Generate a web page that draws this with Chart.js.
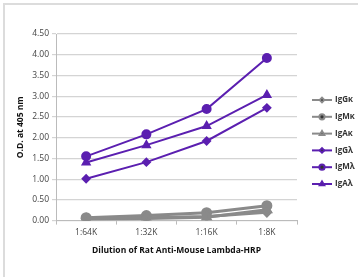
<!DOCTYPE html>
<html>
<head>
<meta charset="utf-8">
<script src="https://cdn.jsdelivr.net/npm/chart.js@4"></script>
<style>
	html, body { margin: 0; padding: 0; background: #fff; }
	#frame { position: absolute; left: 3px; top: 3px; width: 360px; height: 280px; border-left: 2px solid #dcdcdc; border-top: 2px solid #dcdcdc; }
	#wrap { position: absolute; left: 0; top: 0; width: 358px; height: 277px; }
</style>
</head>
<body>
<div id="frame"></div>
<div id="wrap"><canvas id="chart"></canvas></div>
<script>
	// dilution categories
	let dilutions = ['1:64K', '1:32K', '1:16K', '1:8K'];
	let yTicks = [0, 0.5, 1, 1.5, 2, 2.5, 3, 3.5, 4, 4.5];

	// O.D. readings
	let igGk = [0.05, 0.07, 0.10, 0.20];
	let igMk = [0.07, 0.12, 0.19, 0.36];
	let igAk = [0.03, 0.05, 0.08, 0.26];
	let igGl = [1.01, 1.41, 1.92, 2.72];
	let igMl = [1.55, 2.08, 2.69, 3.92];
	let igAl = [1.40, 1.82, 2.28, 3.03];

	let GRAY = '#8a8a8a';
	let PURPLE = '#5b1fb0';
	let FONT = '"Open Sans", sans-serif';

	function series(label, data, color, style, radius, width) {
		return {
			label: label,
			data: data,
			borderColor: color,
			backgroundColor: color,
			borderWidth: width,
			pointStyle: style,
			pointRadius: radius,
			pointHoverRadius: radius,
			tension: 0
		};
	}

	// legend with line + marker, drawn by hand
	const sideLegend = {
		id: 'sideLegend',
		afterDraw(chart) {
			const ctx = chart.ctx;
			let x0 = 312, y0 = 100, step = 16.8;
			ctx.save();
			chart.data.datasets.forEach((ds, i) => {
				let y = y0 + i * step;
				ctx.strokeStyle = ds.borderColor;
				ctx.lineWidth = 2;
				ctx.beginPath();
				ctx.moveTo(x0, y);
				ctx.lineTo(x0 + 20, y);
				ctx.stroke();
				Chart.helpers.drawPoint(ctx, {
					pointStyle: ds.pointStyle,
					radius: ds.pointRadius * 0.65,
					rotation: 0,
					borderWidth: 1
				}, x0 + 10, y);
				ctx.fillStyle = '#333';
				ctx.font = 'bold 8px ' + FONT;
				ctx.textBaseline = 'middle';
				ctx.textAlign = 'left';
				ctx.fillText(ds.label, x0 + 23, y);
			});
			ctx.restore();
		}
	};

	const ctx = document.getElementById('chart').getContext('2d');
	const myChart = new Chart(ctx, {
		type: 'line',
		data: {
			labels: dilutions,
			datasets: [
				series('IgG\u03BA', igGk, GRAY, 'rectRot', 3.5, 3),
				series('IgM\u03BA', igMk, GRAY, 'circle', 4, 3),
				series('IgA\u03BA', igAk, GRAY, 'triangle', 4, 3),
				series('IgG\u03BB', igGl, PURPLE, 'rectRot', 3.5, 2),
				series('IgM\u03BB', igMl, PURPLE, 'circle', 4, 2),
				series('IgA\u03BB', igAl, PURPLE, 'triangle', 4, 2)
			]
		},
		options: {
			responsive: true,
			maintainAspectRatio: false,
			animation: false,
			layout: { padding: { left: 11, right: 61, top: 34, bottom: 17 } },
			plugins: {
				legend: { display: false },
				tooltip: { enabled: false }
			},
			scales: {
				x: {
					offset: true,
					grid: { offset: true, drawOnChartArea: false, tickLength: 4, color: '#bbb' },
					border: { color: '#bbb' },
					ticks: { color: '#444', font: { family: FONT, size: 8.5 }, padding: 3 },
					title: { display: true, text: 'Dilution of Rat Anti-Mouse Lambda-HRP', color: '#111', font: { family: FONT, size: 8.5, weight: 'bold' }, padding: { top: 5 } }
				},
				y: {
					min: 0,
					max: 4.5,
					afterBuildTicks: (scale) => { scale.ticks = yTicks.map((v) => ({ value: v })); },
					afterFit: (scale) => { scale.width = 45; },
					grid: { color: '#d4d4d4', tickLength: 4, lineWidth: 1.2 },
					border: { color: '#bbb' },
					ticks: { color: '#444', font: { family: FONT, size: 8.5 }, padding: 3, callback: (v) => v.toFixed(2) },
					title: { display: true, text: 'O.D. at 405 nm', color: '#111', font: { family: FONT, size: 8.5, weight: 'bold' }, padding: { bottom: 2 } }
				}
			}
		},
		plugins: [sideLegend]
	});
</script>
</body>
</html>
